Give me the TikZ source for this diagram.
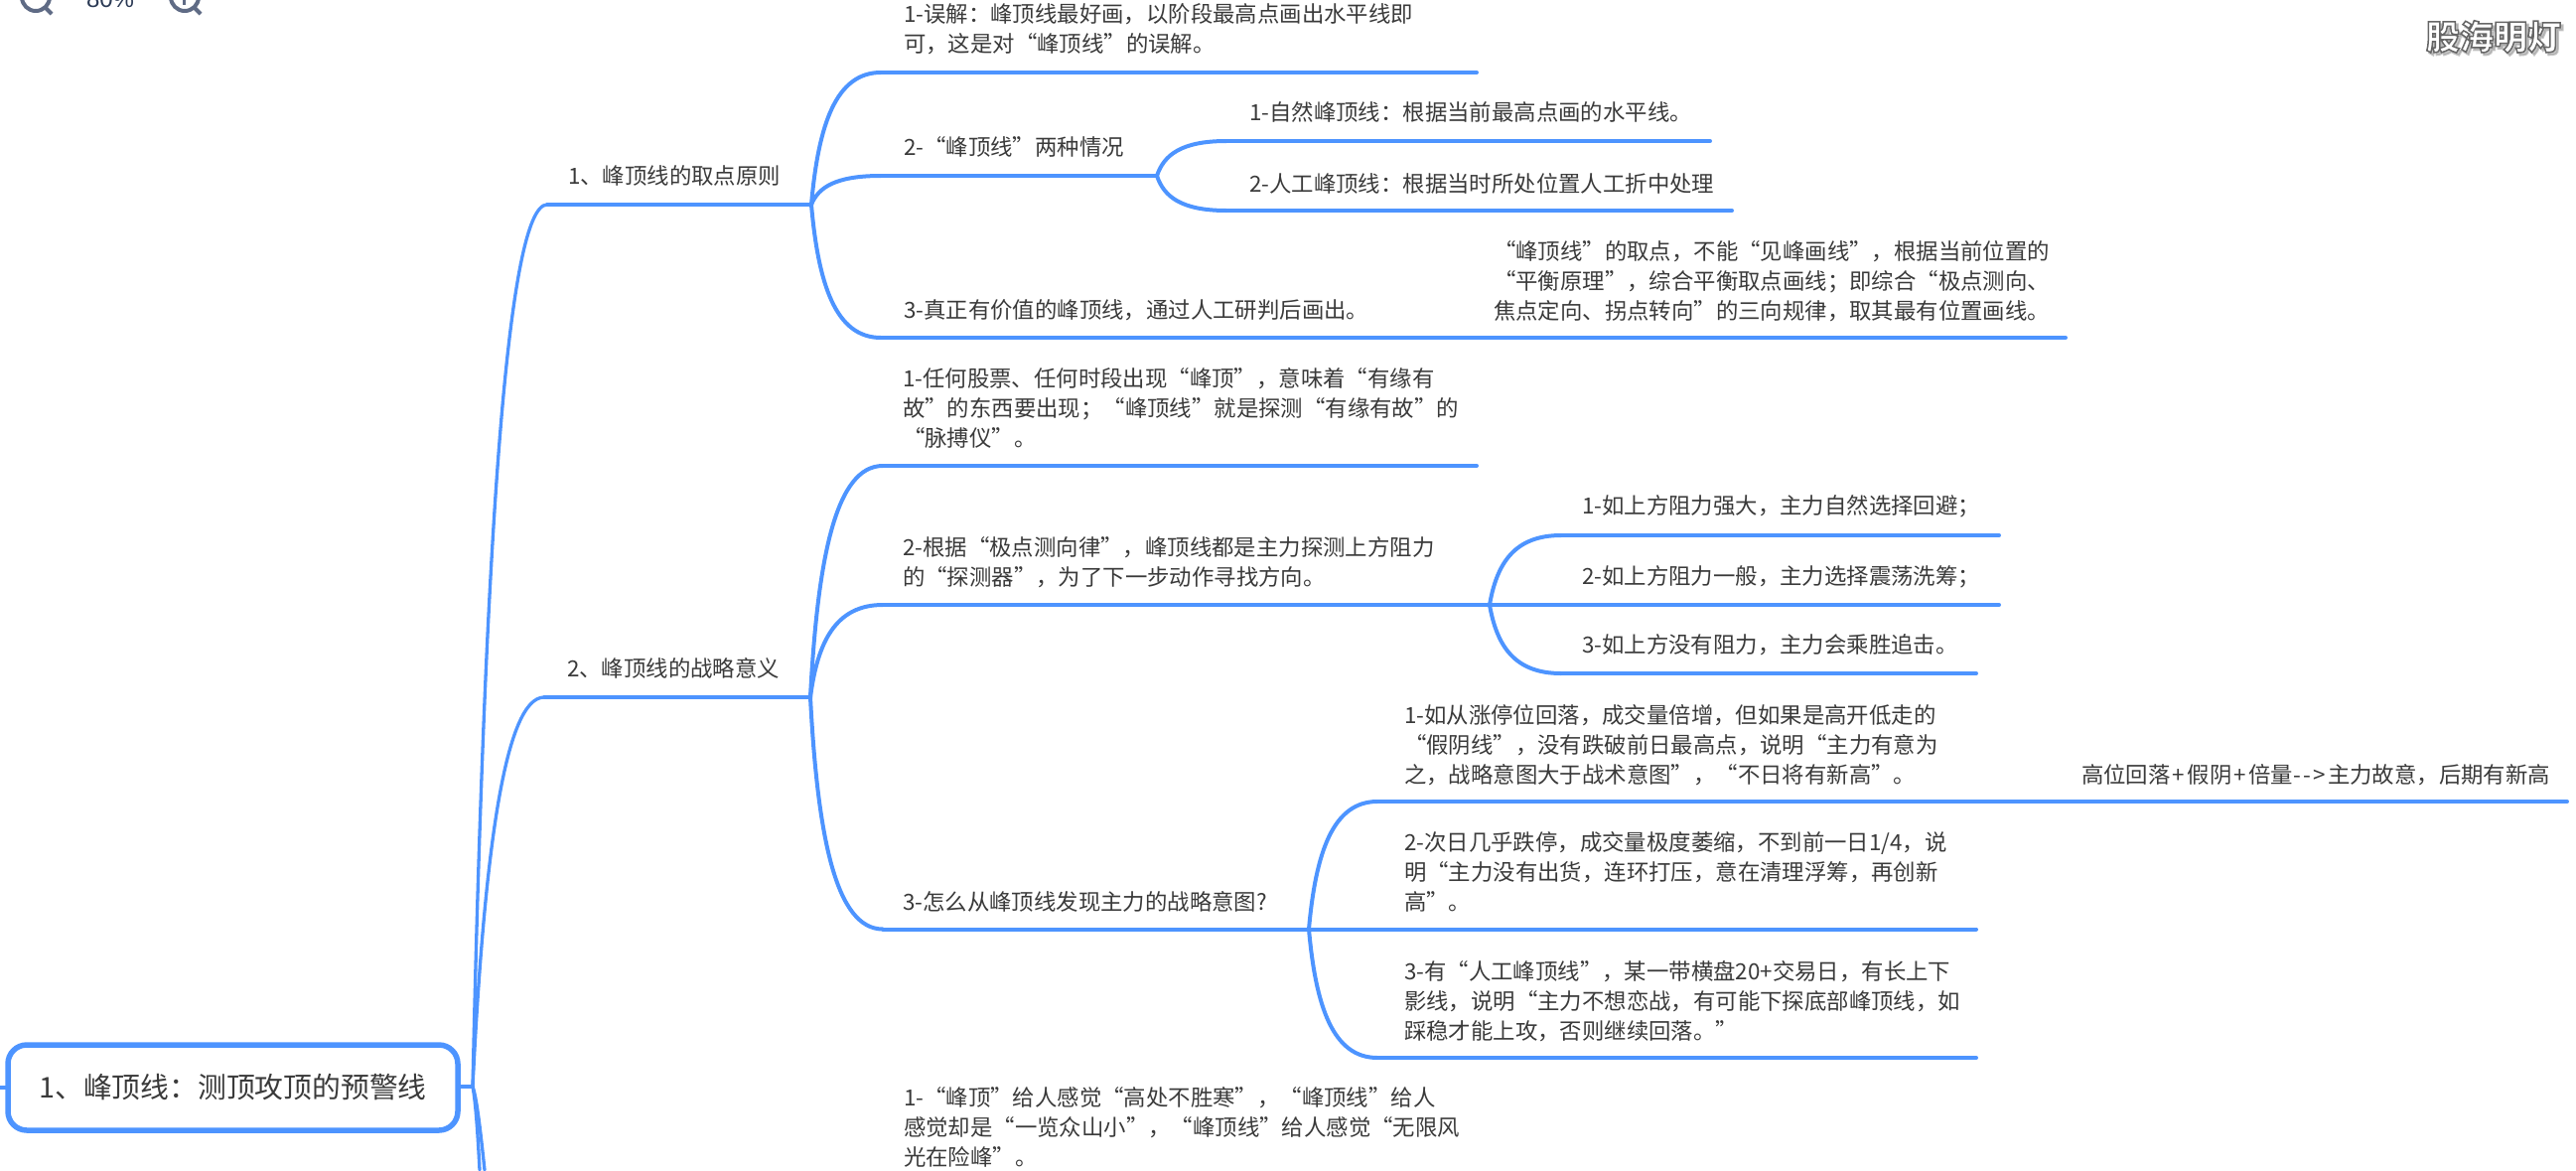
\documentclass[tikz,border=0pt]{standalone}
\usepackage{fontspec}
\setmainfont{Noto Sans CJK SC}
\newfontfamily\uifont{Liberation Sans}
\usetikzlibrary{calc}
\definecolor{linkblue}{HTML}{4D94FF}
\definecolor{inktext}{HTML}{3A3A3A}
\definecolor{iconblue}{HTML}{5F6B85}
\definecolor{pctblue}{HTML}{2B3A55}
\tikzset{
  every node/.style={inner sep=0pt,outer sep=0pt},
  lbl/.style={anchor=west,align=left,text=inktext,font=\fontsize{22.4}{30}\selectfont},
  link/.style={draw=linkblue,line width=4pt,line cap=round},
  trunk/.style={link,line width=3.3pt},
  icon/.style={draw=iconblue,line width=4pt},
  rootbox/.style={draw=linkblue,line width=5.5pt,rounded corners=19pt,fill=white,minimum width=453pt,minimum height=86pt,anchor=north west,text=inktext,font=\fontsize{28.8}{34}\selectfont}
}
% curved connector: parent knot -> child start, then its underline -> child end
\newcommand\curvelink[5]{%
  \path let \p1=(#1),\p2=(#2) in
    coordinate (ca) at (\x1+#3*\x2-#3*\x1,\y1+0.6*\y2-0.6*\y1)
    coordinate (cb) at (\x1+#4*\x2-#4*\x1,\y2);
  \draw[#5] (#1) .. controls (ca) and (cb) .. (#2);
}
\newcommand\branch[3]{\curvelink{#1}{#2}{.1}{.35}{link}\draw[link] (#2) -- (#3);}
\newcommand\lk{\kern2.3pt}
\begin{document}
\begin{tikzpicture}[x=1pt,y=-1pt]
\useasboundingbox (0,0) rectangle (2594,1178);

% ---- top-left zoom control, cut by the picture edge
\begin{scope}
\clip (0,0) rectangle (2594,1178);
\draw[icon] (36,-3) circle (14);
\draw[icon] (45,7) -- (52,14);
\draw[icon] (186,-3) circle (14);
\draw[icon] (195,7) -- (202,14);
\draw[icon,line width=3pt] (185,-3) -- (185,5);
\node[anchor=base west,text=pctblue,font=\uifont\fontsize{24}{28}\selectfont] (pct) at (87,7) {80\%};
\end{scope}

% ---- watermark
\node[anchor=west,text=black!50,opacity=.55,font=\fontsize{34}{36}\selectfont\bfseries] (wmshadow) at (2445.5,39.5) {\special{pdf:code 2 Tr 2 w 0.6 G 0.6 g}股海明灯\special{pdf:code 0 Tr 0 w 0 G 0 g}};
\node[anchor=west,font=\fontsize{34}{36}\selectfont\bfseries] (wm) at (2443,37) {\special{pdf:code 2 Tr 1.5 w 0.4 G 1 g}股海明灯\special{pdf:code 0 Tr 0 w 0 G 0 g}};

% ---- knots and line ends
\coordinate (rk) at (476,1094);
\coordinate (lft) at (0,1095);
\coordinate (rl) at (8,1095);
\coordinate (rr) at (461,1094);
\coordinate (offa) at (483,1178);
\coordinate (offb) at (488,1178);

\coordinate (As) at (551,206);  \coordinate (Ak) at (817,206);
\coordinate (Bs) at (548,702);  \coordinate (Bk) at (816,702);

\coordinate (A1s) at (887,73);  \coordinate (A1e) at (1487,73);
\coordinate (A2s) at (887,177); \coordinate (A2k) at (1165,177);
\coordinate (A3s) at (887,340); \coordinate (A3e) at (2080,340);
\coordinate (A21s) at (1235,142); \coordinate (A21e) at (1722,142);
\coordinate (A22s) at (1235,212); \coordinate (A22e) at (1744,212);

\coordinate (B1s) at (889,469); \coordinate (B1e) at (1487,469);
\coordinate (B2s) at (889,609); \coordinate (B2k) at (1500,609);
\coordinate (B3s) at (889,935.5); \coordinate (B3k) at (1318,935.5);
\coordinate (B21s) at (1572,539); \coordinate (B21e) at (2013,539);
\coordinate (B22e) at (2013,609);
\coordinate (B23s) at (1572,678); \coordinate (B23e) at (1990,678);
\coordinate (B31s) at (1387,807); \coordinate (B31e) at (1990,807);
\coordinate (B31f) at (2585,807);
\coordinate (B32e) at (1990,935.5);
\coordinate (B33s) at (1387,1065); \coordinate (B33e) at (1990,1065);

% ---- connectors
\draw[link] (lft) -- (rl);
\draw[link] (rr) -- (rk);
\curvelink{rk}{As}{.16}{.45}{trunk}\draw[link] (As) -- (Ak);
\curvelink{rk}{Bs}{.16}{.45}{trunk}\draw[link] (Bs) -- (Bk);
\draw[trunk] (rk) .. controls (479,1110) and (481,1140) .. (offa);
\draw[trunk] (rk) .. controls (480,1105) and (484,1140) .. (offb);

\branch{Ak}{A1s}{A1e}
\branch{Ak}{A2s}{A2k}
\branch{Ak}{A3s}{A3e}
\branch{A2k}{A21s}{A21e}
\branch{A2k}{A22s}{A22e}

\branch{Bk}{B1s}{B1e}
\branch{Bk}{B2s}{B2k}
\branch{Bk}{B3s}{B3k}
\branch{B2k}{B21s}{B21e}
\draw[link] (B2k) -- (B22e);
\branch{B2k}{B23s}{B23e}
\branch{B3k}{B31s}{B31e}
\draw[link] (B31e) -- (B31f);
\draw[link] (B3k) -- (B32e);
\branch{B3k}{B33s}{B33e}

% ---- root
\node[rootbox] (root) at (8,1052) {1、峰顶线：测顶攻顶的预警线};

% ---- texts
\node[lbl] (a) at (572,177) {1、峰顶线的取点原则};
\node[lbl] (a1) at (910,29) {1-误解：峰顶线最好画，以阶段最高点画出水平线即\\可，这是对“峰顶线”的误解。};
\node[lbl] (a2) at (910,148) {2-“峰顶线”两种情况};
\node[lbl] (a21) at (1258,113) {1-自然峰顶线：根据当前最高点画的水平线。};
\node[lbl] (a22) at (1258,185) {2-人工峰顶线：根据当时所处位置人工折中处理};
\node[lbl] (a3) at (910,312) {3-真正有价值的峰顶线，通过人工研判后画出。};
\node[lbl] (a31) at (1504,283) {“峰顶线”的取点，不能“见峰画线”，根据当前位置的\\“平衡原理”，综合平衡取点画线；即综合“极点测向、\\焦点定向、拐点转向”的三向规律，取其最有位置画线。};

\node[lbl] (b) at (571,673) {2、峰顶线的战略意义};
\node[lbl] (b1) at (909,411) {1-任何股票、任何时段出现“峰顶”，意味着“有缘有\\故”的东西要出现；“峰顶线”就是探测“有缘有故”的\\“脉搏仪”。};
\node[lbl] (b2) at (909,566) {2-根据“极点测向律”，峰顶线都是主力探测上方阻力\\的“探测器”，为了下一步动作寻找方向。};
\node[lbl] (b21) at (1593,510) {1-如上方阻力强大，主力自然选择回避；};
\node[lbl] (b22) at (1593,581) {2-如上方阻力一般，主力选择震荡洗筹；};
\node[lbl] (b23) at (1593,649) {3-如上方没有阻力，主力会乘胜追击。};
\node[lbl] (b3) at (909,908) {3-怎么从峰顶线发现主力的战略意图?};
\node[lbl] (b31) at (1414,750) {1-如从涨停位回落，成交量倍增，但如果是高开低走的\\“假阴线”，没有跌破前日最高点，说明“主力有意为\\之，战略意图大于战术意图”，“不日将有新高”。};
\node[lbl] (b311) at (2096,780) {高位回落\lk{}+\lk{}假阴\lk{}+\lk{}倍量-\lk{}-\lk{}>\lk{}主力故意，后期有新高};
\node[lbl] (b32) at (1414,878) {2-次日几乎跌停，成交量极度萎缩，不到前一日1/4，说\\明“主力没有出货，连环打压，意在清理浮筹，再创新\\高”。};
\node[lbl] (b33) at (1414,1008) {3-有“人工峰顶线”，某一带横盘20+交易日，有长上下\\影线，说明“主力不想恋战，有可能下探底部峰顶线，如\\踩稳才能上攻，否则继续回落。”};
\node[lbl] (c1) at (910,1135) {1-“峰顶”给人感觉“高处不胜寒”，“峰顶线”给人\\感觉却是“一览众山小”，“峰顶线”给人感觉“无限风\\光在险峰”。};
\end{tikzpicture}
\end{document}
